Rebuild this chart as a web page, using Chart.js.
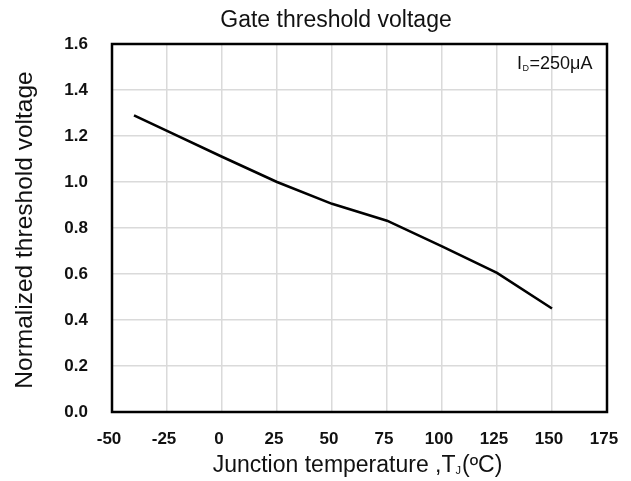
<!DOCTYPE html>
<html>
<head>
<meta charset="utf-8">
<script src="https://cdn.jsdelivr.net/npm/chart.js@4/dist/chart.umd.min.js"></script>
<style>
  html, body { margin: 0; padding: 0; background: #ffffff; }
  #wrap { width: 631px; height: 481px; position: relative; }
</style>
</head>
<body>
<div id="wrap"><canvas id="c"></canvas></div>
<script>
// ---- data ----
const temperatures = [-40, -25, 0, 25, 50, 75, 100, 125, 150];
const normalizedVth = [1.29, 1.222, 1.11, 1.0, 0.905, 0.832, 0.72, 0.605, 0.45];
const xTicks = [-50, -25, 0, 25, 50, 75, 100, 125, 150, 175];
const yTicks = [0.0, 0.2, 0.4, 0.6, 0.8, 1.0, 1.2, 1.4, 1.6];

const chartTitle = 'Gate threshold voltage';
const yTitle = 'Normalized threshold voltage';
const xTitleMain = 'Junction temperature ,T';
const xTitleSub = 'J';
const xTitleEnd = '(ºC)';
const noteMain = 'I';
const noteSub = 'D';
const noteEnd = '=250μA';

const FONT = '"Liberation Sans", Arial, sans-serif';

const points = temperatures.map((t, i) => ({ x: t, y: normalizedVth[i] }));

const decor = {
  id: 'decor',
  beforeDraw(chart) {
    const ctx = chart.ctx;
    ctx.save();
    ctx.fillStyle = '#ffffff';
    ctx.fillRect(0, 0, chart.width, chart.height);
    ctx.restore();
  },
  beforeDatasetsDraw(chart) {
    const { ctx, chartArea: a } = chart;
    ctx.save();
    ctx.strokeStyle = '#000000';
    ctx.lineWidth = 2.5;
    ctx.strokeRect(a.left, a.top, a.right - a.left, a.bottom - a.top);
    ctx.restore();
  },
  afterDraw(chart) {
    const { ctx } = chart;
    ctx.save();
    ctx.fillStyle = '#111111';
    ctx.textBaseline = 'alphabetic';

    // chart title
    ctx.font = '23px ' + FONT;
    ctx.textAlign = 'center';
    ctx.fillText(chartTitle, 336, 27);

    // y axis title
    ctx.save();
    ctx.translate(32, 230);
    ctx.rotate(-Math.PI / 2);
    ctx.font = '24.5px ' + FONT;
    ctx.textAlign = 'center';
    ctx.fillText(yTitle, 0, 0);
    ctx.restore();

    // x axis title with subscript
    ctx.textAlign = 'left';
    const big = '23px ' + FONT, small = '11px ' + FONT;
    ctx.font = big;
    const w1 = ctx.measureText(xTitleMain).width;
    ctx.font = small;
    const w2 = ctx.measureText(xTitleSub).width;
    ctx.font = big;
    const w3 = ctx.measureText(xTitleEnd).width;
    let x0 = 357.5 - (w1 + w2 + 1 + w3) / 2;
    const yb = 472;
    ctx.font = big; ctx.fillText(xTitleMain, x0, yb); x0 += w1;
    ctx.font = small; ctx.fillText(xTitleSub, x0, yb + 2); x0 += w2 + 1;
    ctx.font = big; ctx.fillText(xTitleEnd, x0, yb);

    // annotation I_D=250μA
    const nb = '18px ' + FONT, ns = '9px ' + FONT;
    let nx = 517;
    const ny = 68.5;
    ctx.font = nb; ctx.fillText(noteMain, nx, ny); nx += ctx.measureText(noteMain).width + 0.5;
    ctx.font = ns; ctx.fillText(noteSub, nx, ny + 2); nx += ctx.measureText(noteSub).width + 0.5;
    ctx.font = nb; ctx.fillText(noteEnd, nx, ny);
    ctx.restore();
  }
};

new Chart(document.getElementById('c'), {
  type: 'line',
  data: {
    datasets: [{
      data: points,
      borderColor: '#000000',
      borderWidth: 2.6,
      pointRadius: 0,
      tension: 0,
      fill: false
    }]
  },
  options: {
    responsive: true,
    maintainAspectRatio: false,
    animation: false,
    devicePixelRatio: 1,
    layout: { padding: { left: 0, top: 44, right: 24, bottom: 0 } },
    plugins: {
      legend: { display: false },
      title: { display: false },
      tooltip: { enabled: false }
    },
    scales: {
      x: {
        type: 'linear',
        min: xTicks[0],
        max: xTicks[xTicks.length - 1],
        afterBuildTicks(scale) { scale.ticks = xTicks.map(v => ({ value: v })); },
        afterFit(scale) {
          scale.height = 69;
          scale.paddingLeft = 0;
          scale.paddingRight = 0;
        },
        ticks: {
          padding: 17,
          labelOffset: -3,
          color: '#111111',
          font: { family: FONT, size: 17, weight: 'bold' },
          maxRotation: 0,
          autoSkip: false,
          callback: v => String(v)
        },
        grid: { color: '#dadada', lineWidth: 1.5, drawTicks: false },
        border: { display: false }
      },
      y: {
        type: 'linear',
        min: yTicks[0],
        max: yTicks[yTicks.length - 1],
        afterBuildTicks(scale) { scale.ticks = yTicks.map(v => ({ value: v })); },
        afterFit(scale) {
          scale.width = 112;
          scale.paddingTop = 0;
          scale.paddingBottom = 0;
        },
        ticks: {
          padding: 24,
          color: '#111111',
          font: { family: FONT, size: 17, weight: 'bold' },
          autoSkip: false,
          callback: v => Number(v).toFixed(1)
        },
        grid: { color: '#dadada', lineWidth: 1.5, drawTicks: false },
        border: { display: false }
      }
    }
  },
  plugins: [decor]
});
</script>
</body>
</html>
